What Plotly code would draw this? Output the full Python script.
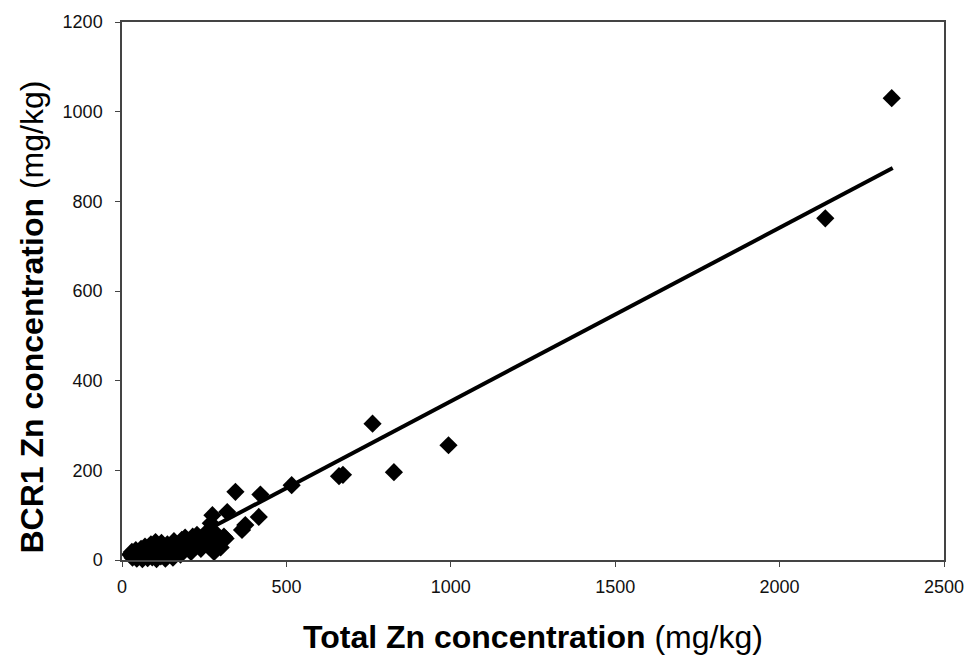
import plotly.graph_objects as go

# Total Zn (mg/kg) vs BCR1 Zn (mg/kg)
total_zn = [25, 30, 32, 38, 42, 45, 50, 55, 58, 62, 65, 70, 72, 78, 80, 85, 88, 92, 95, 100,
            102, 105, 110, 112, 118, 120, 125, 130, 132, 138, 140, 145, 150, 155, 158, 162,
            168, 172, 178, 182, 188, 192, 198, 205, 210, 215, 222, 228, 235, 240, 248, 255,
            260, 265, 270, 280, 285, 295, 300,
            270, 280, 275, 280, 310, 315, 320, 345, 365, 375, 416, 421, 516,
            660, 672, 762, 827, 993, 2139, 2341]
bcr1_zn = [12, 18, 5, 10, 22, 3, 14, 8, 25, 2, 18, 30, 10, 4, 22, 15, 35, 6, 26, 12,
           40, 2, 20, 30, 8, 38, 15, 25, 3, 35, 10, 20, 32, 5, 42, 15,
           25, 35, 12, 45, 22, 50, 30, 40, 18, 52, 30, 56, 38, 25, 45, 60,
           41, 30, 50, 18, 35, 40, 28,
           82, 63, 100, 22, 52, 48, 107, 152, 67, 78, 96, 146, 167,
           187, 190, 304, 196, 256, 762, 1030]

# Linear trend line
trend_slope = 0.387
trend_intercept = -33.0
trend_x = [85, 2344]
trend_y = [trend_slope * v + trend_intercept for v in trend_x]

x_ticks = [0, 500, 1000, 1500, 2000, 2500]
y_ticks = [0, 200, 400, 600, 800, 1000, 1200]

fig = go.Figure()
fig.add_trace(go.Scatter(
    x=total_zn, y=bcr1_zn, mode="markers",
    marker=dict(symbol="diamond", size=14, color="black", line=dict(width=0)),
    showlegend=False, cliponaxis=False))
fig.add_trace(go.Scatter(
    x=trend_x, y=trend_y, mode="lines",
    line=dict(color="black", width=4), showlegend=False))

axis_common = dict(
    showgrid=False, zeroline=False, showline=True, mirror=True,
    linecolor="#444", linewidth=1.5, ticks="outside", ticklen=5,
    tickcolor="#444", tickwidth=1,
    tickfont=dict(family="Liberation Sans, Arial", size=18, color="#111"))

fig.update_layout(
    width=976, height=662,
    margin=dict(l=122, r=26, t=20, b=102),
    paper_bgcolor="white", plot_bgcolor="white",
    xaxis=dict(range=[0, 2500], tickvals=x_ticks, ticklabelstandoff=5, **axis_common),
    yaxis=dict(range=[0, 1200], tickvals=y_ticks, ticklabelstandoff=9, **axis_common),
    annotations=[
        dict(text="<b>Total Zn concentration</b> (mg/kg)",
             xref="paper", yref="paper", x=(536 - 122) / 828, y=-(637 - 560) / 540,
             xanchor="center", yanchor="middle", showarrow=False,
             font=dict(family="Liberation Sans, Arial", size=32, color="black")),
        dict(text="<b>BCR1 Zn concentration</b> (mg/kg)",
             xref="paper", yref="paper", x=-(122 - 31) / 828, y=(560 - 316) / 540,
             xanchor="center", yanchor="middle", showarrow=False, textangle=-90,
             font=dict(family="Liberation Sans, Arial", size=32, color="black")),
    ],
)

fig.write_html("out.html")
